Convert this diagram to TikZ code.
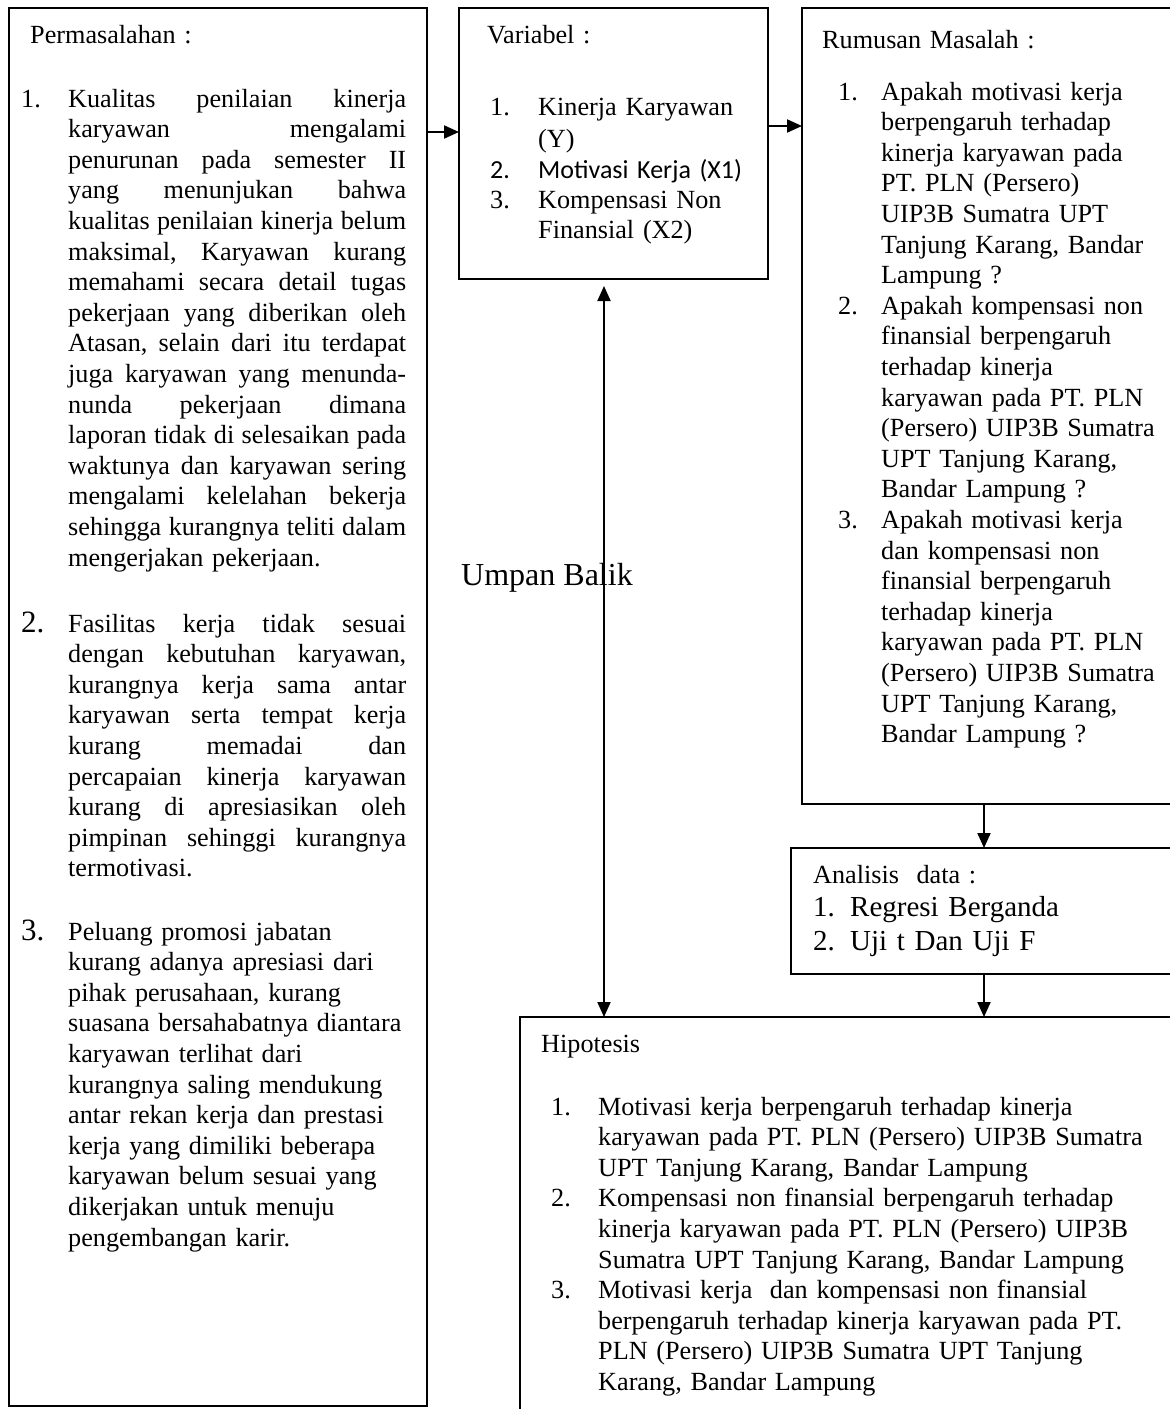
\documentclass[tikz,border=0pt]{standalone}
\usepackage{fontspec}
\setmainfont{Liberation Serif}
\newfontfamily\calib{Carlito}
\usetikzlibrary{arrows.meta}
\newcommand\jline[1]{\leavevmode\hbox to 338pt{#1}}
\newcommand\numl[2]{\leavevmode\llap{\makebox[#1][l]{#2}}}
\begin{document}
\begin{tikzpicture}[x=1pt,y=-1pt,
  frame/.style={draw, line width=1.8pt, inner sep=0pt, outer sep=0pt, anchor=north west},
  txt/.style={inner sep=0pt, anchor=base west, align=left, font=\fontsize{26.2}{30.6}\selectfont},
  arr/.style={line width=2pt, -{Triangle[length=15pt,width=13pt]}},
  darr/.style={line width=2pt, {Triangle[length=15pt,width=13pt]}-{Triangle[length=15pt,width=13pt]}}]
\useasboundingbox (0,0) rectangle (1170,1409);

% frames
\node[frame, minimum width=418pt, minimum height=1398pt] (perm) at (9,8) {};
\node[frame, minimum width=309pt, minimum height=271pt] (var) at (459,8) {};
\node[frame, minimum width=380pt, minimum height=796pt] (rum) at (802,8) {};
\node[frame, minimum width=390pt, minimum height=126pt] (ana) at (791,848) {};
\node[frame, minimum width=665pt, minimum height=410pt] (hip) at (520,1017) {};

% Permasalahan
\node[txt, text width=300pt] (p0) at (30,43) {Permasalahan :};
\node[txt, text width=338pt] (p1) at (68,107) {\numl{47pt}{1.}\jline{Kualitas\hfill penilaian\hfill kinerja}\\
\jline{karyawan\hfill mengalami}\\
\jline{penurunan\hfill pada\hfill semester\hfill II}\\
\jline{yang\hfill menunjukan\hfill bahwa}\\
\jline{kualitas\hfill penilaian\hfill kinerja\hfill belum}\\
\jline{maksimal,\hfill Karyawan\hfill kurang}\\
\jline{memahami\hfill secara\hfill detail\hfill tugas}\\
\jline{pekerjaan\hfill yang\hfill diberikan\hfill oleh}\\
\jline{Atasan,\hfill selain\hfill dari\hfill itu\hfill terdapat}\\
\jline{juga\hfill karyawan\hfill yang\hfill menunda-}\\
\jline{nunda\hfill pekerjaan\hfill dimana}\\
\jline{laporan\hfill tidak\hfill di\hfill selesaikan\hfill pada}\\
\jline{waktunya\hfill dan\hfill karyawan\hfill sering}\\
\jline{mengalami\hfill kelelahan\hfill bekerja}\\
\jline{sehingga\hfill kurangnya\hfill teliti\hfill dalam}\\
mengerjakan pekerjaan.};
\node[txt, text width=338pt] (p2) at (68,632) {\numl{47pt}{\fontsize{31}{30.6}\selectfont 2.}\jline{Fasilitas\hfill kerja\hfill tidak\hfill sesuai}\\
\jline{dengan\hfill kebutuhan\hfill karyawan,}\\
\jline{kurangnya\hfill kerja\hfill sama\hfill antar}\\
\jline{karyawan\hfill serta\hfill tempat\hfill kerja}\\
\jline{kurang\hfill memadai\hfill dan}\\
\jline{percapaian\hfill kinerja\hfill karyawan}\\
\jline{kurang\hfill di\hfill apresiasikan\hfill oleh}\\
\jline{pimpinan\hfill sehinggi\hfill kurangnya}\\
termotivasi.};
\node[txt, text width=338pt] (p3) at (68,940) {\numl{47pt}{\fontsize{31}{30.6}\selectfont 3.}Peluang promosi jabatan\\
kurang adanya apresiasi dari\\
pihak perusahaan, kurang\\
suasana bersahabatnya diantara\\
karyawan terlihat dari\\
kurangnya saling mendukung\\
antar rekan kerja dan prestasi\\
kerja yang dimiliki beberapa\\
karyawan belum sesuai yang\\
dikerjakan untuk menuju\\
pengembangan karir.};

% Variabel
\node[txt, text width=240pt] (v0) at (487,43) {Variabel :};
\node[txt, text width=225pt, font=\fontsize{26.2}{32}\selectfont] (v1) at (538,115) {\numl{48pt}{1.}Kinerja Karyawan\\(Y)};
\node[txt, text width=225pt, font=\calib\fontsize{26}{30}\selectfont] (v2) at (538,178) {\numl{48pt}{2.}Motivasi Kerja (X1)};
\node[txt, text width=225pt] (v3) at (538,208) {\numl{48pt}{3.}Kompensasi Non\\Finansial (X2)};

% Rumusan Masalah
\node[txt, text width=340pt] (r0) at (822,48) {Rumusan Masalah :};
\node[txt, text width=285pt] (r1) at (881,100) {\numl{43pt}{1.}Apakah motivasi kerja\\
berpengaruh terhadap\\
kinerja karyawan pada\\
PT. PLN (Persero)\\
UIP3B Sumatra UPT\\
Tanjung Karang, Bandar\\
Lampung ?};
\node[txt, text width=285pt] (r2) at (881,314.2) {\numl{43pt}{2.}Apakah kompensasi non\\
finansial berpengaruh\\
terhadap kinerja\\
karyawan pada PT. PLN\\
(Persero) UIP3B Sumatra\\
UPT Tanjung Karang,\\
Bandar Lampung ?};
\node[txt, text width=285pt] (r3) at (881,528.4) {\numl{43pt}{3.}Apakah motivasi kerja\\
dan kompensasi non\\
finansial berpengaruh\\
terhadap kinerja\\
karyawan pada PT. PLN\\
(Persero) UIP3B Sumatra\\
UPT Tanjung Karang,\\
Bandar Lampung ?};

% Analisis data
\node[txt, text width=340pt] (a0) at (813,883) {Analisis\ \ data :};
\node[txt, text width=310pt, font=\fontsize{29}{34}\selectfont] (a1) at (850,916) {\numl{37pt}{1.}Regresi Berganda\\
\numl{37pt}{2.}Uji t Dan Uji F};

% Hipotesis
\node[txt, text width=600pt] (h0) at (541,1052) {Hipotesis};
\node[txt, text width=565pt] (h1) at (598,1115) {\numl{47pt}{1.}Motivasi kerja berpengaruh terhadap kinerja\\
karyawan pada PT. PLN (Persero) UIP3B Sumatra\\
UPT Tanjung Karang, Bandar Lampung};
\node[txt, text width=565pt] (h2) at (598,1206.8) {\numl{47pt}{2.}Kompensasi non finansial berpengaruh terhadap\\
kinerja karyawan pada PT. PLN (Persero) UIP3B\\
Sumatra UPT Tanjung Karang, Bandar Lampung};
\node[txt, text width=565pt] (h3) at (598,1298.6) {\numl{47pt}{3.}Motivasi kerja\ \ dan kompensasi non finansial\\
berpengaruh terhadap kinerja karyawan pada PT.\\
PLN (Persero) UIP3B Sumatra UPT Tanjung\\
Karang, Bandar Lampung};

% Umpan Balik
\node[txt, font=\fontsize{32}{36}\selectfont] (ub) at (461,585) {Umpan Balik};

% connectors
\coordinate (ya) at (0,132);
\coordinate (yb) at (0,126);
\coordinate (xc) at (984,0);
\coordinate (xf) at (604,0);
\draw[arr] (perm.east |- ya) -- (var.west |- ya);
\draw[arr] (var.east |- yb) -- (rum.west |- yb);
\draw[arr] (rum.south -| xc) -- (ana.north -| xc);
\draw[arr] (ana.south -| xc) -- (hip.north -| xc);
\draw[darr, shorten <=7pt] (var.south -| xf) -- (hip.north -| xf);
\end{tikzpicture}
\end{document}
